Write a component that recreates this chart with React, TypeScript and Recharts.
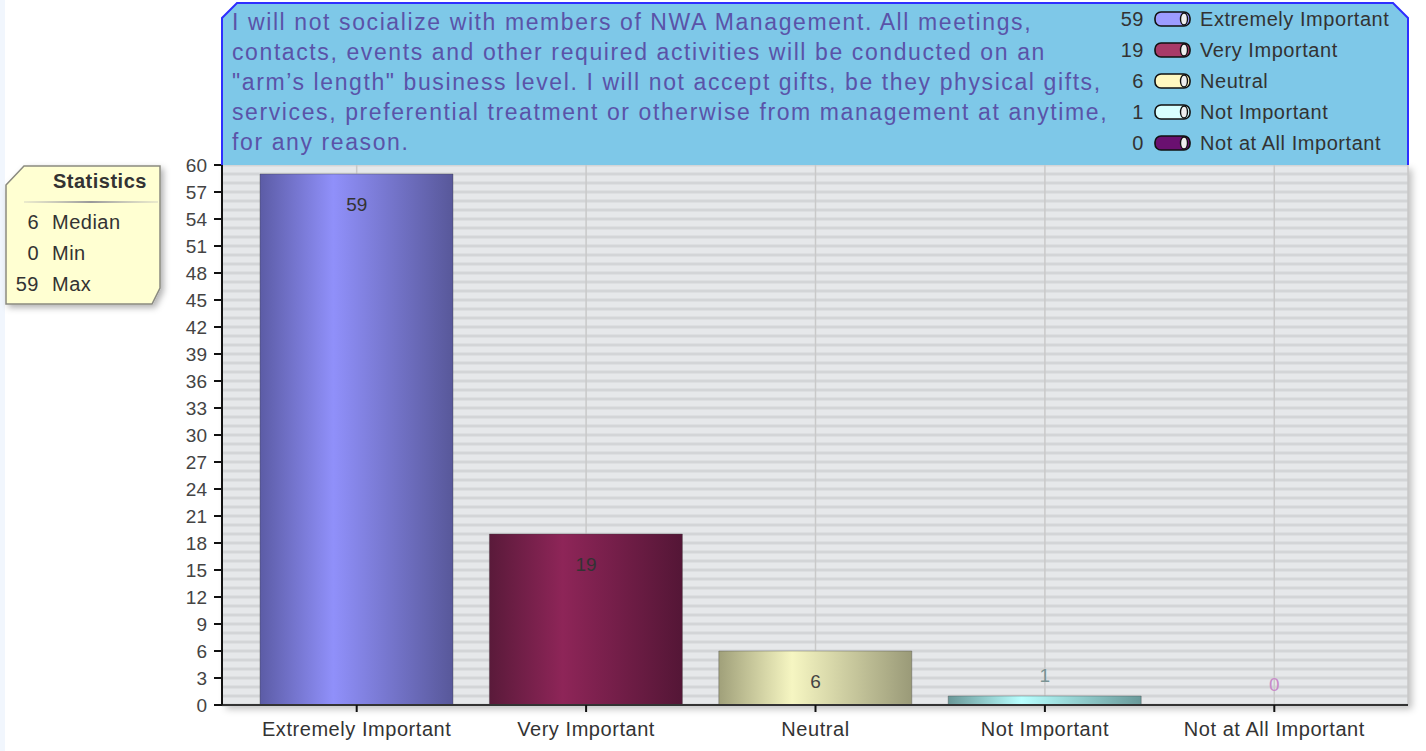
import { Bar, CartesianGrid, Cell, ComposedChart, LabelList, Line, XAxis, YAxis } from 'recharts'

const categories = [
  'Extremely Important',
  'Very Important',
  'Neutral',
  'Not Important',
  'Not at All Important',
]
const counts = [59, 19, 6, 1, 0]
const yTicks = [0, 3, 6, 9, 12, 15, 18, 21, 24, 27, 30, 33, 36, 39, 42, 45, 48, 51, 54, 57, 60]
const statLabels = ['Median', 'Min', 'Max']
const statValues = [6, 0, 59]
const titleLines = [
  'I will not socialize with members of NWA Management. All meetings,',
  'contacts, events and other required activities will be conducted on an',
  '"arm\u2019s length" business level. I will not accept gifts, be they physical gifts,',
  'services, preferential treatment or otherwise from management at anytime,',
  'for any reason.',
]

// bar gradients: edge, highlight, far edge
const barGradients = [
  ['#5c5ca6', '#9090fa', '#58589a'],
  ['#5a1a3a', '#8e2558', '#541636'],
  ['#a0a07a', '#f6f6c2', '#9a9a78'],
  ['#6a9898', '#b8ffff', '#6a9a9a'],
  ['#5a1060', '#9a40a0', '#5a1060'],
]
const legendColors = ['#9c9cff', '#a83a68', '#fff8c0', '#d8ffff', '#6a1070']
const labelColors = ['#333', '#333', '#444', '#7a9494', '#c88ac8']

const FONT = '"Liberation Sans", Arial, sans-serif'
const Y_MAX = 60
const chartData = categories.map((name, i) => ({ name, count: counts[i] }))
const stripeValues = Array.from({ length: Y_MAX + 1 }, (_, i) => i)

function stripeLines(props: any) {
  const scale = props?.yAxis?.scale
  if (typeof scale === 'function') return stripeValues.map((v) => scale(v))
  if (scale && typeof scale.map === 'function') return stripeValues.map((v) => scale.map(v))
  const { top, height } = props.offset
  return stripeValues.map((v) => top + (height * (Y_MAX - v)) / Y_MAX)
}

// labels sit inside tall bars, just above short ones
function ValueLabel(props: any) {
  const { x, y, value, index } = props
  const inside = Number(value) >= 4
  return (
    <text
      x={Number(x)}
      y={inside ? Number(y) + 37 : Number(y) - 14}
      textAnchor="middle"
      fill={labelColors[index] ?? '#333'}
      fontSize={19}
      fontFamily={FONT}
    >
      {value}
    </text>
  )
}

function Pill({ color }: { color: string }) {
  return (
    <svg width={38} height={18} style={{ display: 'block' }}>
      <rect x={1} y={2} width={35} height={14} rx={6} fill={color} stroke="#111" strokeWidth={1.6} />
      <ellipse cx={30} cy={9} rx={3.5} ry={6} fill="#eee" stroke="#111" strokeWidth={1.4} />
    </svg>
  )
}

function App() {
  return (
    <div
      style={{
        position: 'absolute',
        left: 0,
        top: 0,
        width: 1426,
        height: 751,
        background: '#fff',
        fontFamily: FONT,
        overflow: 'hidden',
      }}
    >
      <div style={{ position: 'absolute', left: 0, top: 0, width: 5, height: 751, background: '#f1f6fd' }} />
      <div
        style={{
          position: 'absolute',
          left: 222,
          top: 165,
          width: 1186,
          height: 540,
          boxShadow: '4px 4px 7px rgba(0,0,0,0.25)',
        }}
      />

      <ComposedChart
        width={1426}
        height={751}
        data={chartData}
        margin={{ top: 165, right: 18, bottom: 6, left: 150 }}
        barCategoryGap={18}
        style={{ position: 'absolute', left: 0, top: 0 }}
      >
        <defs>
          {barGradients.map((g, i) => (
            <linearGradient key={i} id={`barGrad${i}`} x1="0" y1="0" x2="1" y2="0">
              <stop offset="0%" stopColor={g[0]} />
              <stop offset="38%" stopColor={g[1]} />
              <stop offset="100%" stopColor={g[2]} />
            </linearGradient>
          ))}
        </defs>
        <CartesianGrid
          vertical={false}
          fill="#e6e8ea"
          stroke="#d3d5d7"
          strokeWidth={3}
          horizontalCoordinatesGenerator={stripeLines}
        />
        <CartesianGrid horizontal={false} stroke="#c9c9c9" strokeWidth={1.5} />
        <XAxis
          dataKey="name"
          height={40}
          padding={{ left: 20, right: 19 }}
          axisLine={{ stroke: '#333', strokeWidth: 2 }}
          tickLine={{ stroke: '#111', strokeWidth: 2 }}
          tickSize={7}
          tickMargin={10}
          tick={{ fill: '#333', fontSize: 20, fontFamily: FONT, letterSpacing: 0.55 }}
          interval={0}
        />
        <YAxis
          width={72}
          domain={[0, Y_MAX]}
          ticks={yTicks}
          interval={0}
          allowDataOverflow
          axisLine={{ stroke: '#111', strokeWidth: 2 }}
          tickLine={{ stroke: '#111', strokeWidth: 2 }}
          tickSize={8}
          tickMargin={7}
          tick={{ fill: '#444', fontSize: 19, fontFamily: FONT }}
        />
        <YAxis
          yAxisId="frame"
          orientation="right"
          width={0}
          tick={false}
          tickLine={false}
          axisLine={{ stroke: '#555', strokeWidth: 2 }}
        />
        <Bar dataKey="count" isAnimationActive={false} stroke="rgba(60,60,60,0.35)" strokeWidth={1}>
          {chartData.map((_, i) => (
            <Cell key={i} fill={`url(#barGrad${i})`} />
          ))}
        </Bar>
        <Line
          dataKey="count"
          stroke="none"
          dot={false}
          activeDot={false}
          isAnimationActive={false}
        >
          <LabelList dataKey="count" content={ValueLabel} />
        </Line>
      </ComposedChart>

      <svg
        width={1426}
        height={751}
        style={{ position: 'absolute', left: 0, top: 0, pointerEvents: 'none' }}
      >
        <defs>
          <filter id="shadow" x="-10%" y="-10%" width="130%" height="130%">
            <feDropShadow dx="3" dy="3" stdDeviation="3" floodColor="#000" floodOpacity="0.3" />
          </filter>
          <linearGradient id="sep" x1="0" y1="0" x2="1" y2="0">
            <stop offset="0%" stopColor="#bbb" stopOpacity="0.3" />
            <stop offset="50%" stopColor="#999" />
            <stop offset="100%" stopColor="#bbb" stopOpacity="0.3" />
          </linearGradient>
        </defs>
        <polygon points="222,165 222,18 237,3 1393,3 1408,18 1408,165" fill="#7ec8e8" />
        <polyline
          points="222,165 222,18 237,3 1393,3 1408,18 1408,165"
          fill="none"
          stroke="#2f2fff"
          strokeWidth={2}
        />
        <polygon
          points="6,185 24,166 160,166 160,288 152,304 6,304"
          fill="#ffffd2"
          stroke="#8a8a80"
          strokeWidth={1.5}
          filter="url(#shadow)"
        />
        <rect x={24} y={201} width={134} height={2} fill="url(#sep)" />
      </svg>

      {/* title text */}
      <div
        style={{
          position: 'absolute',
          left: 232,
          top: 7,
          color: '#5a53a8',
          fontSize: 23,
          lineHeight: '30px',
          letterSpacing: 1.6,
          whiteSpace: 'nowrap',
        }}
      >
        {titleLines.map((line, i) => (
          <div key={i}>{line}</div>
        ))}
      </div>

      {/* legend */}
      {categories.map((name, i) => (
        <div
          key={name}
          style={{
            position: 'absolute',
            left: 1100,
            top: 5 + i * 31,
            height: 28,
            display: 'flex',
            alignItems: 'center',
            fontSize: 20,
            letterSpacing: 0.55,
            color: '#333',
            whiteSpace: 'nowrap',
          }}
        >
          <span style={{ width: 44, textAlign: 'right' }}>{counts[i]}</span>
          <span style={{ marginLeft: 10, marginRight: 8 }}>
            <Pill color={legendColors[i]} />
          </span>
          <span>{name}</span>
        </div>
      ))}

      {/* statistics */}
      <div
        style={{
          position: 'absolute',
          left: 53,
          top: 170,
          fontSize: 20,
          fontWeight: 'bold',
          letterSpacing: 0.5,
          color: '#333',
        }}
      >
        Statistics
      </div>
      {statLabels.map((label, i) => (
        <div
          key={label}
          style={{
            position: 'absolute',
            left: 0,
            top: 208 + i * 31,
            height: 28,
            display: 'flex',
            alignItems: 'center',
            fontSize: 20,
            letterSpacing: 0.5,
            color: '#333',
          }}
        >
          <span style={{ width: 39, textAlign: 'right' }}>{statValues[i]}</span>
          <span style={{ marginLeft: 13 }}>{label}</span>
        </div>
      ))}
    </div>
  )
}

export default App
